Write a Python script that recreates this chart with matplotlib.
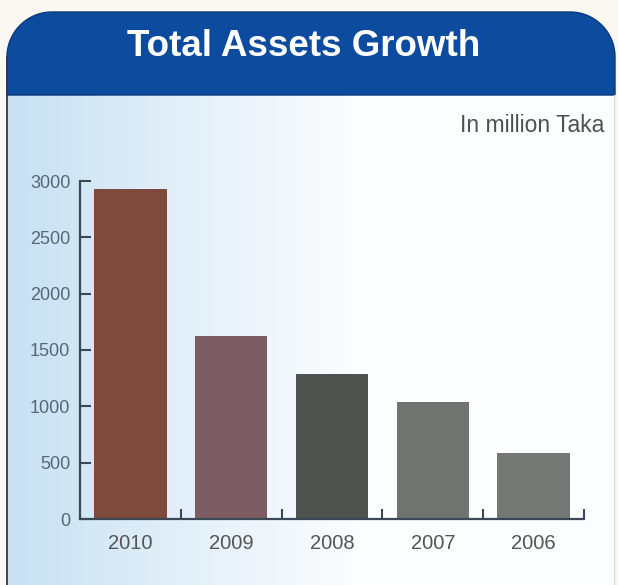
import matplotlib.pyplot as plt
import numpy as np
from matplotlib.patches import PathPatch
from matplotlib.path import Path

years = ["2010", "2009", "2008", "2007", "2006"]
assets = [2930, 1625, 1290, 1040, 585]
bar_colors = ["#7d4a3b", "#7b5c63", "#4e5350", "#6f7471", "#737875"]
y_ticks = [0, 500, 1000, 1500, 2000, 2500, 3000]

W, H = 618, 585
SANS = ["Liberation Sans", "DejaVu Sans"]
AXIS_COLOR = "#3b4856"


def top_rounded(x0, x1, y0, y1, r, n=30):
    """Box in pixel coords (y grows downwards) with rounded top corners."""
    t = np.linspace(np.pi, 1.5 * np.pi, n)
    left = np.column_stack([x0 + r + r * np.cos(t), y0 + r + r * np.sin(t)])
    t = np.linspace(1.5 * np.pi, 2 * np.pi, n)
    right = np.column_stack([x1 - r + r * np.cos(t), y0 + r + r * np.sin(t)])
    pts = np.vstack([[x0, y1], left, right, [x1, y1], [x0, y1]])
    return Path(pts, closed=True)


fig = plt.figure(figsize=(W / 100, H / 100), dpi=100, facecolor="#fbf8f3")

# background layer in pixel coordinates
bg = fig.add_axes([0, 0, 1, 1])
bg.set_xlim(0, W)
bg.set_ylim(H, 0)
bg.axis("off")

panel = PathPatch(top_rounded(7, 615, 12, 585, 45), fc="none", ec="none")
bg.add_patch(panel)
f = np.linspace(0, 1, 400)
k = np.clip(1 - f / 0.6, 0, 1) ** 1.1
blue = np.array([0.78, 0.88, 0.95])
white = np.array([0.99, 0.995, 1.0])
grad = white + (blue - white) * k[:, None]
img = bg.imshow(grad[None, :, :], extent=(7, 615, 585, 12), aspect="auto", zorder=0)
img.set_clip_path(panel)

header = PathPatch(top_rounded(7, 615, 12, 95, 45), fc="#0c4b9d", ec="#08397a", lw=1.0, zorder=2)
bg.add_patch(header)
bg.plot([7, 7], [57, 585], color="#2c3a48", lw=1.3, zorder=3)
bg.plot([614, 614], [95, 585], color="#d6dbe0", lw=1.0, zorder=3)

bg.text(304, 46, "Total Assets Growth", ha="center", va="center", color="white",
        fontsize=26.5, fontweight="bold", family=SANS, zorder=4)
bg.text(604, 125, "In million Taka", ha="right", va="center", color="#505050",
        fontsize=16.5, family=SANS, zorder=4)

# bar chart
ax = fig.add_axes([80 / W, (H - 519) / H, 504 / W, 338 / H])
ax.patch.set_alpha(0)
x = np.arange(len(years))
ax.bar(x, assets, width=0.72, color=bar_colors, zorder=2)

ax.set_xlim(-0.5, len(years) - 0.5)
ax.set_ylim(0, 3000)
for side in ("top", "right"):
    ax.spines[side].set_visible(False)
for side in ("left", "bottom"):
    ax.spines[side].set_color(AXIS_COLOR)
    ax.spines[side].set_linewidth(1.6)

ax.set_yticks(y_ticks)
ax.set_yticklabels([str(v) for v in y_ticks])
ax.tick_params(axis="y", direction="in", length=8, width=1.5, color=AXIS_COLOR,
               labelsize=13, labelcolor="#55687a", pad=7)
ax.set_xticks(x)
ax.set_xticklabels(years)
ax.set_xticks(list(x + 0.5), minor=True)
ax.tick_params(axis="x", which="major", length=0, labelsize=14.5, labelcolor="#555555", pad=11)
ax.tick_params(axis="x", which="minor", direction="in", length=7, width=1.5, color=AXIS_COLOR)
for lbl in ax.get_yticklabels() + ax.get_xticklabels():
    lbl.set_family(SANS)

fig.savefig("out.png", dpi=100)
